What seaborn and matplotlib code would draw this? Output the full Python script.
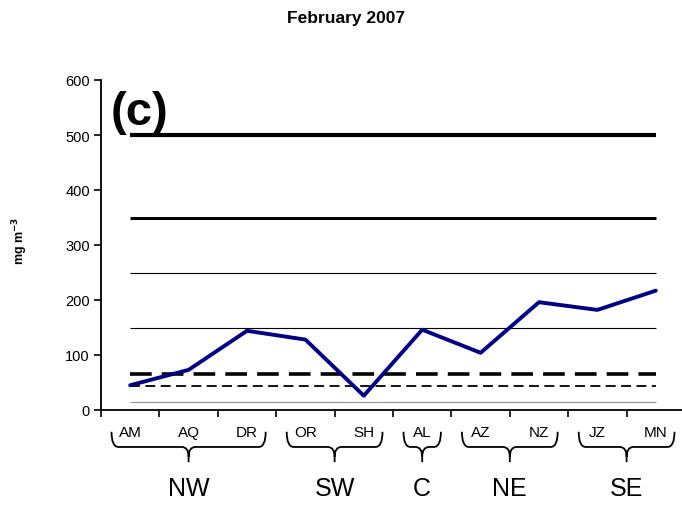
import matplotlib
matplotlib.use("Agg")
import matplotlib.pyplot as plt
import matplotlib.transforms as mtransforms
from matplotlib.path import Path
from matplotlib.patches import PathPatch
import seaborn as sns
import pandas as pd

# data
sites = ["AM", "AQ", "DR", "OR", "SH", "AL", "AZ", "NZ", "JZ", "MN"]
conc = [45, 73, 144, 128, 26, 146, 104, 196, 182, 217]
groups = ["NW", "SW", "C", "NE", "SE"]
group_span = [(0, 2), (3, 4), (5, 5), (6, 7), (8, 9)]
# reference levels (mg m-3)
ref_levels = [500, 350, 250, 150, 65, 43, 15]
ref_styles = [
    dict(color="black", lw=3.0),
    dict(color="black", lw=2.2),
    dict(color="black", lw=0.8),
    dict(color="black", lw=0.8),
    dict(color="black", lw=2.6, dashes=(6.0, 2.8)),
    dict(color="black", lw=1.3, dashes=(5.5, 3.0)),
    dict(color="#999999", lw=0.9),
]

sns.set_style("white")
plt.rcParams["font.family"] = ["Liberation Sans", "DejaVu Sans"]
plt.rcParams["text.color"] = "black"
plt.rcParams["xtick.color"] = "black"
plt.rcParams["ytick.color"] = "black"

fig = plt.figure(figsize=(6.82, 5.06), dpi=100)
ax = fig.add_axes([101 / 682, 1 - 411 / 506, 584 / 682, 330 / 506])

x = list(range(len(sites)))
for lev, st in zip(ref_levels, ref_styles):
    ax.plot([x[0], x[-1]], [lev, lev], solid_capstyle="butt", dash_capstyle="butt", **st)

df = pd.DataFrame({"pos": x, "conc": conc})
sns.lineplot(data=df, x="pos", y="conc", color="#000080", lw=2.8, sort=False, ax=ax)

ax.set_xlim(-0.5, 9.5)
ax.set_ylim(0, 600)
ax.set_yticks(range(0, 601, 100))
ax.set_xticks([i - 0.5 for i in range(len(sites))])
ax.set_xticklabels([])
ax.set_xlabel("")
ax.set_ylabel("")
ax.tick_params(axis="both", direction="out", length=5, width=1.2, color="black",
               labelsize=10.5, labelcolor="black", left=True, bottom=True, pad=3)
for s in ["top", "right"]:
    ax.spines[s].set_visible(False)
for s in ["left", "bottom"]:
    ax.spines[s].set_color("black")
    ax.spines[s].set_linewidth(1.3)

trans = mtransforms.blended_transform_factory(ax.transData, ax.transAxes)
for i, s in enumerate(sites):
    ax.text(i, -0.068, s, transform=trans, ha="center", va="center", fontsize=11, clip_on=False)

# braces under groups
y_top, y_mid, y_tip = -0.066, -0.112, -0.158
r = 0.12
for (a, b), g in zip(group_span, groups):
    x0, x1 = a - 0.32, b + 0.32
    xc = (x0 + x1) / 2
    verts = [(x0, y_top), (x0, y_mid), (x0 + r, y_mid),
             (xc - r, y_mid),
             (xc, y_mid), (xc, y_mid - 0.03), (xc, y_tip),
             (xc, y_mid - 0.03), (xc, y_mid), (xc + r, y_mid),
             (x1 - r, y_mid),
             (x1, y_mid), (x1, y_top)]
    codes = [Path.MOVETO, Path.CURVE3, Path.CURVE3,
             Path.LINETO,
             Path.CURVE3, Path.CURVE3, Path.LINETO,
             Path.MOVETO, Path.CURVE3, Path.CURVE3,
             Path.LINETO,
             Path.CURVE3, Path.CURVE3]
    ax.add_patch(PathPatch(Path(verts, codes), transform=trans, fill=False,
                           lw=1.3, edgecolor="black", clip_on=False))
    ax.text(xc, -0.235, g, transform=trans, ha="center", va="center", fontsize=18, clip_on=False)

ax.text(10 / 584, (411 - 125) / 330, "(c)", transform=ax.transAxes, fontsize=34,
        fontweight="bold", va="baseline", ha="left")
fig.text(346 / 682, 1 - 18 / 506, "February 2007", ha="center", va="center",
         fontsize=12.5, fontweight="bold")
fig.text(20 / 682, 1 - 241 / 506, r"mg m$^{\mathbf{-3}}$", rotation=90, ha="center",
         va="center", fontsize=9, fontweight="bold")

fig.savefig("out.png", dpi=100)
